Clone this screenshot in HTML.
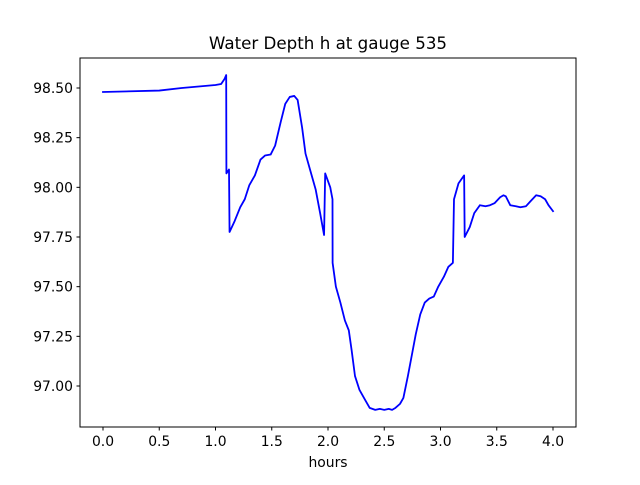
<!DOCTYPE html>
<html><head><meta charset="utf-8"><style>
html,body{margin:0;padding:0;background:#fff;}
svg text{font-family:"DejaVu Sans","Liberation Sans",sans-serif;fill:#000;}
</style></head><body>
<svg id="chart" width="640" height="480" viewBox="0 0 640 480" xmlns="http://www.w3.org/2000/svg">
<rect x="0" y="0" width="640" height="480" fill="#fff"/>
<text x="328" y="49" font-size="16.7" text-anchor="middle">Water Depth h at gauge 535</text>
<g id="plot"></g>
<rect x="80" y="58" width="496" height="369" fill="none" stroke="#000" stroke-width="1"/>
<text x="328" y="467" font-size="13.9" text-anchor="middle">hours</text>
</svg>
<script>
const hours=[0,0.5,0.7,1.0,1.05,1.08,1.095,1.097,1.12,1.125,1.17,1.22,1.26,1.3,1.35,1.4,1.44,1.49,1.53,1.58,1.62,1.66,1.7,1.73,1.77,1.8,1.84,1.89,1.93,1.965,1.975,2.02,2.04,2.041,2.07,2.11,2.15,2.185,2.21,2.24,2.28,2.33,2.37,2.42,2.46,2.5,2.54,2.57,2.6,2.64,2.67,2.71,2.75,2.78,2.82,2.86,2.9,2.94,2.98,3.03,3.07,3.11,3.12,3.16,3.21,3.215,3.26,3.3,3.35,3.4,3.44,3.48,3.53,3.56,3.58,3.62,3.67,3.71,3.76,3.8,3.85,3.89,3.93,3.96,4.0];
const depth=[98.48,98.487,98.5,98.515,98.52,98.545,98.565,98.07,98.09,97.775,97.83,97.9,97.94,98.01,98.06,98.14,98.16,98.165,98.21,98.33,98.42,98.455,98.46,98.44,98.3,98.17,98.09,97.99,97.87,97.76,98.07,98.0,97.94,97.62,97.5,97.42,97.33,97.28,97.18,97.05,96.98,96.93,96.89,96.88,96.885,96.88,96.885,96.88,96.89,96.91,96.94,97.05,97.17,97.26,97.36,97.42,97.44,97.45,97.5,97.55,97.6,97.62,97.94,98.02,98.06,97.75,97.8,97.87,97.91,97.905,97.91,97.92,97.95,97.96,97.955,97.91,97.905,97.9,97.905,97.93,97.96,97.955,97.94,97.91,97.88];
const xTicks=[0,0.5,1.0,1.5,2.0,2.5,3.0,3.5,4.0];
const xTickLabels=["0.0","0.5","1.0","1.5","2.0","2.5","3.0","3.5","4.0"];
const yTicks=[97.0,97.25,97.5,97.75,98.0,98.25,98.5];
const yTickLabels=["97.00","97.25","97.50","97.75","98.00","98.25","98.50"];

const NS="http://www.w3.org/2000/svg";
function xs(v){return 103+v*112.5;}
function ys(v){return 386-(v-97.0)*198.67;}
const g=document.getElementById('plot');
function mk(t,a){const e=document.createElementNS(NS,t);for(const k in a)e.setAttribute(k,a[k]);return e;}

xTicks.forEach((t,i)=>{
  const x=xs(t);
  const l=mk('line',{x1:x,x2:x,y1:427,y2:430.5,stroke:'#000','stroke-width':1});
  
  
  g.appendChild(l);
  const tx=mk('text',{x:x,y:446,'font-size':13.9,'text-anchor':'middle'});
  
  
  tx.textContent=xTickLabels[i];
  g.appendChild(tx);
});
yTicks.forEach((t,i)=>{
  const y=ys(t);
  const l=mk('line',{x1:76.5,x2:80,y1:y,y2:y,stroke:'#000','stroke-width':1});
  
  
  g.appendChild(l);
  const tx=mk('text',{x:73,y:y+5,'font-size':13.9,'text-anchor':'end'});
  
  
  tx.textContent=yTickLabels[i];
  g.appendChild(tx);
});
const pts=hours.map((h,i)=>xs(h).toFixed(2)+','+ys(depth[i]).toFixed(2)).join(' ');
const line=mk('polyline',{points:pts,fill:'none',stroke:'#0000ff','stroke-width':1.8,'stroke-linejoin':'round','stroke-linecap':'square'});


g.appendChild(line);
</script>
</body></html>
